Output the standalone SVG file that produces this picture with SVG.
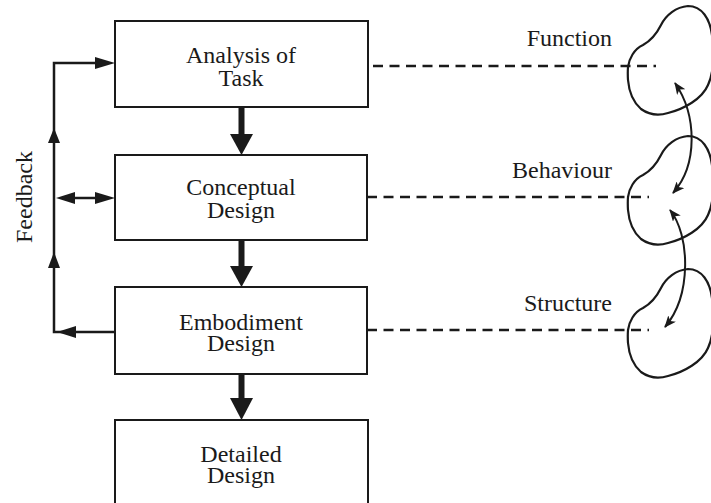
<svg xmlns="http://www.w3.org/2000/svg" width="711" height="503" viewBox="0 0 711 503">
<style>
.box{fill:#fff;stroke:#1a1a1a;stroke-width:2}
.lbl{font-family:"Liberation Serif","Times New Roman",serif;font-size:24px;fill:#1a1a1a;text-anchor:middle}
.side{font-family:"Liberation Serif","Times New Roman",serif;font-size:24px;fill:#1a1a1a;text-anchor:end}
.ln{fill:none;stroke:#1a1a1a;stroke-width:2.5}
.dash{fill:none;stroke:#1a1a1a;stroke-width:2.5;stroke-dasharray:10 6.5}
.head{fill:#1a1a1a;stroke:none}
.blob{fill:none;stroke:#1a1a1a;stroke-width:2.2}
.curve{fill:none;stroke:#1a1a1a;stroke-width:2}
</style>
<defs>
<path id="blobShape" d="M0,0 C1,-8 6,-18 15,-22 C24,-27 29,-34 33,-42 C38,-52 48,-60 60,-61 C74,-61 82,-48 84,-32 C86,-15 86,5 80,18 C74,32 56,42 40,46 C30,49 20,47 13,42 C5,35 1,25 0,13 C-0.3,8 -0.3,4 0,0 Z"/>
<marker id="sm" viewBox="0 0 12 10" refX="11" refY="5" markerWidth="12" markerHeight="10" markerUnits="userSpaceOnUse" orient="auto-start-reverse">
<path d="M0,0 L12,5 L0,10 L3,5 Z" fill="#1a1a1a"/>
</marker>
</defs>

<g id="node-analysis">
<rect class="box" x="115" y="21" width="253" height="86"/>
<text class="lbl" x="241" y="63">Analysis of</text>
<text class="lbl" x="241" y="86">Task</text>
</g>
<g id="node-conceptual">
<rect class="box" x="115" y="155" width="252" height="85"/>
<text class="lbl" x="241" y="195">Conceptual</text>
<text class="lbl" x="241" y="218">Design</text>
</g>
<g id="node-embodiment">
<rect class="box" x="115" y="287" width="252" height="87"/>
<text class="lbl" x="241" y="330">Embodiment</text>
<text class="lbl" x="241" y="351">Design</text>
</g>
<g id="node-detailed">
<rect class="box" x="115" y="420" width="253" height="100"/>
<text class="lbl" x="241" y="462">Detailed</text>
<text class="lbl" x="241" y="483">Design</text>
</g>

<g id="node-feedback-label">
<text class="lbl" transform="translate(32,197) rotate(-90)">Feedback</text>
</g>

<g id="node-function">
<text class="side" x="612" y="46">Function</text>
<use href="#blobShape" class="blob" transform="translate(628,67)"/>
</g>
<g id="node-behaviour">
<text class="side" x="612" y="178">Behaviour</text>
<use href="#blobShape" class="blob" transform="translate(628,197)"/>
</g>
<g id="node-structure">
<text class="side" x="612" y="311">Structure</text>
<use href="#blobShape" class="blob" transform="translate(628,330)"/>
</g>

<g id="connectors">
<!-- main flow -->
<rect x="238.5" y="107" width="6" height="29" fill="#1a1a1a"/>
<polygon class="head" points="230,134 253,134 241.5,155"/>
<rect x="238.5" y="240" width="6" height="28" fill="#1a1a1a"/>
<polygon class="head" points="230,266 253,266 241.5,287"/>
<rect x="238.5" y="374" width="6" height="26" fill="#1a1a1a"/>
<polygon class="head" points="230,398 253,398 241.5,420"/>
<!-- feedback loop -->
<path class="ln" d="M115,332 H54 V63 H97"/>
<polygon class="head" points="115,63 95,57 95,69"/>
<polygon class="head" points="57,332 76,326 76,338"/>
<polygon class="head" points="54,128 48,143 60,143"/>
<polygon class="head" points="54,252 48,268 60,268"/>
<path class="ln" d="M70,198 H100"/>
<polygon class="head" points="56,198 75,192 75,204"/>
<polygon class="head" points="115,198 95,192 95,204"/>
<!-- dashed links -->
<path class="dash" d="M373,66 H656"/>
<path class="dash" d="M367,197 H649"/>
<path class="dash" d="M367,330 H649"/>
<!-- curved links between blobs -->
<path class="curve" d="M675,83 C697,115 698,165 673,193" marker-start="url(#sm)" marker-end="url(#sm)"/>
<path class="curve" d="M670,210 C690,235 692,295 665,327" marker-start="url(#sm)" marker-end="url(#sm)"/>
</g>
</svg>
